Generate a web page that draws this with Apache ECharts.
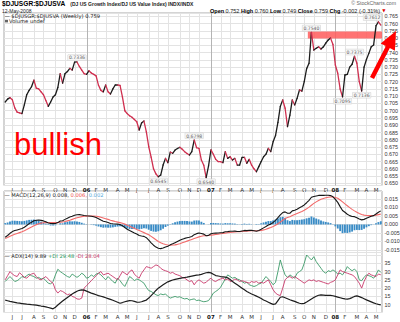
<!DOCTYPE html>
<html>
<head>
<meta charset="utf-8">
<script src="https://cdn.jsdelivr.net/npm/echarts@6/dist/echarts.min.js"></script>
<style>
html,body{margin:0;padding:0;background:#fff;}
#chart{width:400px;height:322px;}
</style>
</head>
<body>
<div id="chart"></div>
<script>
// Weekly close of the DJ US Growth / DJ US Value ratio, May 2005 - May 2008
const ratio = [
0.7060,0.7080,0.7090,0.7075,0.7020,0.6990,0.6985,0.6980,0.7040,0.7110,
0.7140,0.7165,0.7210,0.7155,0.7150,0.7130,0.7110,0.7070,0.7030,0.7060,
0.7095,0.7110,0.7160,0.7255,0.7190,0.7255,0.7270,0.7292,0.7280,0.7335,
0.7336,0.7305,0.7280,0.7255,0.7250,0.7275,0.7260,0.7250,0.7240,0.7175,
0.7140,0.7130,0.7177,0.7130,0.7115,0.7150,0.7177,0.7177,0.7175,0.7096,
0.7000,0.6980,0.6965,0.6955,0.6940,0.6924,0.6867,0.6915,0.6929,0.6855,
0.6752,0.6680,0.6600,0.6565,0.6545,0.6557,0.6626,0.6672,0.6642,0.6715,
0.6707,0.6729,0.6740,0.6748,0.6735,0.6718,0.6705,0.6695,0.6718,0.6798,
0.6745,0.6740,0.6660,0.6625,0.6540,0.6620,0.6730,0.6700,0.6665,0.6650,
0.6649,0.6642,0.6718,0.6672,0.6683,0.6660,0.6672,0.6626,0.6626,0.6679,
0.6679,0.6638,0.6665,0.6625,0.6600,0.6580,0.6615,0.6650,0.6683,0.6701,
0.6741,0.6718,0.6787,0.6830,0.6920,0.7030,0.7074,0.7017,0.6890,0.6970,
0.7074,0.7040,0.7085,0.7143,0.7135,0.7200,0.7290,0.7327,0.7540,0.7418,
0.7430,0.7440,0.7425,0.7440,0.7466,0.7487,0.7500,0.7456,0.7315,0.7258,
0.7150,0.7095,0.7246,0.7250,0.7300,0.7320,0.7375,0.7327,0.7200,0.7136,
0.7300,0.7353,0.7395,0.7440,0.7453,0.7585,0.7612,0.7590
];

// MACD(12,26,9)
const macdLine = [
-0.0075,-0.0065,-0.0052,-0.0042,-0.0036,-0.0032,-0.0028,-0.0024,-0.0016,-0.0006,
0.0005,0.0013,0.0022,0.0025,0.0026,0.0024,0.0021,0.0016,0.0009,0.0006,
0.0005,0.0006,0.0011,0.0020,0.0022,0.0030,0.0037,0.0044,0.0048,0.0054,
0.0057,0.0058,0.0056,0.0053,0.0051,0.0050,0.0048,0.0045,0.0041,0.0034,
0.0026,0.0019,0.0016,0.0011,0.0006,0.0004,0.0003,0.0002,0.0000,-0.0007,
-0.0018,-0.0028,-0.0036,-0.0043,-0.0050,-0.0056,-0.0065,-0.0068,-0.0070,-0.0078,
-0.0092,-0.0108,-0.0122,-0.0133,-0.0140,-0.0142,-0.0139,-0.0133,-0.0128,-0.0120,
-0.0114,-0.0107,-0.0100,-0.0093,-0.0087,-0.0082,-0.0078,-0.0075,-0.0071,-0.0060,
-0.0054,-0.0050,-0.0053,-0.0057,-0.0066,-0.0064,-0.0055,-0.0052,-0.0051,-0.0050,
-0.0049,-0.0048,-0.0043,-0.0042,-0.0040,-0.0040,-0.0039,-0.0041,-0.0041,-0.0038,
-0.0035,-0.0036,-0.0034,-0.0035,-0.0037,-0.0040,-0.0035,-0.0028,-0.0020,-0.0012,
-0.0003,0.0002,0.0012,0.0024,0.0040,0.0057,0.0070,0.0074,0.0066,0.0066,
0.0080,0.0084,0.0090,0.0098,0.0106,0.0115,0.0128,0.0142,0.0160,0.0165,
0.0168,0.0171,0.0171,0.0171,0.0172,0.0172,0.0170,0.0163,0.0148,0.0130,
0.0105,0.0082,0.0072,0.0060,0.0052,0.0047,0.0046,0.0040,0.0032,0.0027,
0.0030,0.0036,0.0042,0.0048,0.0052,0.0062,0.0072,0.0080
];
const macdSignal = [
-0.0083,-0.0077,-0.0070,-0.0064,-0.0058,-0.0053,-0.0048,-0.0043,-0.0037,-0.0030,
-0.0022,-0.0015,-0.0007,-0.0001,0.0004,0.0008,0.0010,0.0011,0.0012,0.0012,
0.0011,0.0011,0.0011,0.0013,0.0015,0.0017,0.0021,0.0025,0.0030,0.0035,
0.0039,0.0043,0.0046,0.0048,0.0049,0.0050,0.0050,0.0049,0.0048,0.0046,
0.0042,0.0038,0.0034,0.0030,0.0025,0.0021,0.0017,0.0014,0.0011,0.0007,
0.0002,-0.0004,-0.0010,-0.0017,-0.0023,-0.0030,-0.0036,-0.0042,-0.0048,-0.0054,
-0.0061,-0.0070,-0.0080,-0.0090,-0.0100,-0.0108,-0.0114,-0.0118,-0.0121,-0.0122,
-0.0121,-0.0120,-0.0117,-0.0113,-0.0108,-0.0103,-0.0098,-0.0093,-0.0088,-0.0083,
-0.0078,-0.0073,-0.0069,-0.0066,-0.0066,-0.0065,-0.0063,-0.0061,-0.0059,-0.0057,
-0.0055,-0.0053,-0.0051,-0.0049,-0.0047,-0.0046,-0.0044,-0.0043,-0.0042,-0.0041,
-0.0040,-0.0039,-0.0038,-0.0037,-0.0037,-0.0037,-0.0037,-0.0035,-0.0032,-0.0028,
-0.0023,-0.0018,-0.0012,-0.0005,0.0004,0.0014,0.0025,0.0035,0.0041,0.0046,
0.0053,0.0059,0.0065,0.0071,0.0077,0.0084,0.0092,0.0102,0.0113,0.0124,
0.0133,0.0141,0.0148,0.0153,0.0157,0.0160,0.0162,0.0162,0.0159,0.0154,
0.0144,0.0133,0.0121,0.0110,0.0099,0.0089,0.0080,0.0072,0.0065,0.0059,
0.0055,0.0053,0.0052,0.0052,0.0053,0.0055,0.0058,0.0061
];
const macdHist = [
0.0008,0.0012,0.0018,0.0022,0.0022,0.0021,0.0020,0.0019,0.0021,0.0024,
0.0027,0.0028,0.0029,0.0026,0.0022,0.0016,0.0011,0.0005,-0.0003,-0.0006,
-0.0006,-0.0005,0.0000,0.0007,0.0007,0.0013,0.0016,0.0019,0.0018,0.0019,
0.0018,0.0015,0.0010,0.0005,0.0002,0.0000,-0.0002,-0.0004,-0.0007,-0.0012,
-0.0016,-0.0019,-0.0018,-0.0019,-0.0019,-0.0017,-0.0014,-0.0012,-0.0011,-0.0014,
-0.0020,-0.0024,-0.0026,-0.0026,-0.0027,-0.0026,-0.0029,-0.0026,-0.0022,-0.0024,
-0.0031,-0.0038,-0.0042,-0.0043,-0.0040,-0.0034,-0.0025,-0.0015,-0.0007,0.0002,
0.0007,0.0013,0.0017,0.0020,0.0021,0.0021,0.0020,0.0018,0.0017,0.0023,
0.0024,0.0023,0.0016,0.0009,0.0000,0.0001,0.0008,0.0009,0.0008,0.0007,
0.0006,0.0005,0.0008,0.0007,0.0007,0.0006,0.0005,0.0002,0.0001,0.0003,
0.0005,0.0003,0.0004,0.0002,0.0000,-0.0003,0.0002,0.0007,0.0012,0.0016,
0.0020,0.0020,0.0024,0.0029,0.0036,0.0043,0.0045,0.0039,0.0025,0.0020,
0.0027,0.0025,0.0025,0.0027,0.0029,0.0031,0.0036,0.0040,0.0047,0.0041,
0.0035,0.0030,0.0023,0.0018,0.0015,0.0012,0.0008,0.0001,-0.0011,-0.0024,
-0.0039,-0.0051,-0.0049,-0.0050,-0.0047,-0.0042,-0.0034,-0.0032,-0.0033,-0.0032,
-0.0025,-0.0017,-0.0010,-0.0004,-0.0001,0.0007,0.0014,0.0019
];

// ADX(14) with directional indicators
const adx = [
12.8,12.4,12.0,11.7,11.4,11.1,10.9,10.7,10.5,10.3,
10.2,10.0,9.9,9.7,9.5,9.2,9.0,8.7,8.3,7.9,
7.5,8.5,9.8,11.0,12.2,13.3,14.4,15.4,16.4,17.3,
18.1,18.7,19.0,18.8,18.2,17.6,17.0,16.5,16.0,15.5,
15.1,14.7,14.2,13.7,13.2,12.7,12.1,11.5,10.9,11.3,
11.8,12.2,12.5,12.4,12.0,11.6,11.5,11.8,12.3,12.8,
14.0,15.5,17.0,18.6,20.0,21.0,22.0,23.0,23.8,24.4,
24.9,25.3,25.6,25.9,26.2,26.4,26.6,26.9,27.2,27.5,
27.8,28.0,28.3,28.8,29.3,29.5,29.2,28.4,27.6,27.3,
27.0,26.8,26.6,26.2,25.2,24.0,23.0,22.0,21.0,20.0,
19.0,18.0,17.2,16.5,15.9,15.2,14.5,13.7,12.8,12.2,
11.5,10.8,10.2,10.5,12.5,14.5,14.8,14.2,13.6,13.0,
12.5,12.0,11.4,10.9,10.6,10.8,11.6,12.5,13.4,14.3,
15.1,15.7,15.9,15.8,15.6,15.7,15.6,15.4,15.0,14.6,
14.2,13.8,13.5,13.4,13.7,14.3,15.0,15.3,14.9,14.3,
13.6,12.9,12.3,11.7,11.1,10.6,10.2,9.89
];
const plusDI = [
24.0,25.5,27.0,25.5,24.0,24.5,25.5,27.0,26.5,27.5,
28.5,27.5,27.0,26.0,26.5,25.5,26.0,24.5,23.0,22.5,
24.0,28.0,31.4,30.0,29.0,28.0,27.0,26.5,28.5,27.5,
26.5,27.5,29.0,28.0,26.0,26.5,28.0,27.0,28.5,29.0,
28.0,26.5,25.0,27.0,25.5,24.0,23.0,26.0,24.5,22.5,
21.0,24.0,27.0,26.0,24.5,25.5,25.0,24.0,23.0,20.5,
18.5,18.0,17.0,16.0,15.5,16.5,16.0,16.5,15.0,14.0,
14.5,15.0,14.5,14.8,14.0,13.5,13.8,12.8,13.2,13.5,
12.5,12.8,12.2,11.8,12.0,12.5,14.5,17.0,18.0,19.0,
20.5,23.0,25.5,28.0,27.0,26.0,26.5,25.5,25.0,24.0,
23.0,23.5,22.0,21.5,21.0,21.5,22.5,23.0,25.0,27.0,
25.5,24.0,22.0,23.5,30.0,37.0,32.0,28.0,26.5,28.0,
27.0,26.0,29.0,30.0,31.0,35.0,40.0,38.5,37.0,39.0,
36.0,34.0,32.0,30.0,29.0,30.5,30.0,31.0,30.0,28.5,
29.0,28.0,30.0,33.0,31.5,30.5,31.5,30.0,25.0,24.5,
26.5,28.0,27.5,27.0,26.0,28.0,31.0,29.48
];
const minusDI = [
25.0,27.5,30.0,28.5,27.5,27.0,29.3,28.0,26.5,26.0,
27.5,28.5,29.0,27.0,25.5,25.0,26.0,27.0,25.5,24.0,
23.0,19.0,17.0,18.5,18.0,17.0,16.0,16.5,15.0,14.5,
13.5,13.3,14.0,20.0,21.5,23.0,24.5,26.0,27.5,29.0,
30.0,28.0,28.5,29.0,28.0,27.0,26.0,25.0,27.5,30.0,
29.0,28.0,30.0,31.0,28.5,27.0,26.0,29.0,31.0,33.0,
32.5,32.0,33.0,34.0,33.5,32.0,31.0,30.5,30.0,29.0,
29.5,28.5,28.0,27.5,26.5,26.0,25.0,24.0,24.5,22.0,
24.0,25.0,24.0,23.0,23.5,25.0,26.0,24.5,24.0,25.0,
25.5,26.0,25.0,25.5,24.0,24.5,25.5,25.0,24.0,24.5,
24.0,23.5,23.0,24.0,23.5,24.0,23.0,23.5,23.0,24.0,
25.0,22.0,19.0,17.0,16.0,15.5,20.0,25.0,26.5,27.0,
26.0,27.0,26.0,25.0,24.0,23.0,24.0,25.0,24.5,25.0,
24.0,24.5,24.0,23.5,23.0,22.5,23.5,24.0,25.0,28.0,
31.0,30.0,29.5,29.0,28.5,28.0,27.0,25.0,23.0,20.0,
24.0,27.0,29.0,28.0,27.5,27.0,28.5,28.04
];

// Turning points annotated on the ratio line, and where their tags sit
const pivotWeeks = [30, 64, 79, 84, 128, 141, 146, 149, 156];
const pivotSides = ['top', 'bottom', 'top', 'bottom', 'top', 'bottom', 'top', 'bottom', 'top'];

// Resistance zone drawn from the October 2007 high to the latest week
const zoneStartWeek = 127;
const zoneLow = 0.7497;
const zoneHigh = 0.7546;

const monthInitials = ['J', 'F', 'M', 'A', 'M', 'J', 'J', 'A', 'S', 'O', 'N', 'D'];

// One category per weekly bar (Fridays), starting 13 May 2005
const firstFriday = Date.UTC(2005, 4, 13);
const weeks = ratio.map((_, i) => new Date(firstFriday + i * 7 * 864e5).toISOString().slice(0, 10));
const monthOf = i => Number(weeks[i].slice(5, 7)) - 1;
const isMonthStart = i => i > 0 && monthOf(i) !== monthOf(i - 1);
const monthStarts = weeks.map((_, i) => i).filter(isMonthStart).map(i => [i, monthOf(i) === 0 ? 1 : 0]);

const last = ratio.length - 1;
const FONT = 'DejaVu Sans';
const SANS = 'Liberation Sans';
const UP = '#1c1c1c';
const DOWN = '#cf2f4f';

function monthLabel(value, index) {
  const m = monthOf(index);
  return m === 0 ? '{y|' + weeks[index].slice(2, 4) + '}' : monthInitials[m];
}

function renderMonthLine(params, api) {
  const cs = params.coordSys;
  const x = Math.round(api.coord([api.value(0), 0])[0]) + 0.5;
  return {
    type: 'line', silent: true,
    shape: { x1: x, y1: cs.y, x2: x, y2: cs.y + cs.height },
    style: { stroke: api.value(1) ? '#b4b4b4' : '#e3e3e3', lineWidth: 1 }
  };
}

function renderSegment(params, api) {
  const i = api.value(0);
  const a = api.coord([i, api.value(1)]);
  const b = api.coord([i + 1, api.value(2)]);
  return {
    type: 'line', silent: true,
    shape: { x1: a[0], y1: a[1], x2: b[0], y2: b[1] },
    style: { stroke: api.value(2) >= api.value(1) ? UP : DOWN, lineWidth: 1.3, lineCap: 'round' }
  };
}

function renderZone(params, api) {
  const cs = params.coordSys;
  const half = api.size([1, 0])[0] / 2;
  const top = api.coord([api.value(0), api.value(2)]);
  const bottom = api.coord([api.value(0), api.value(1)]);
  return {
    type: 'rect', silent: true,
    shape: { x: top[0] - half, y: top[1], width: cs.x + cs.width - (top[0] - half), height: bottom[1] - top[1] },
    style: { fill: '#ff5c5c', opacity: 0.85 }
  };
}

const grids = [
  { left: 4, top: 13, width: 378, height: 172.5 },
  { left: 4, top: 191, width: 378, height: 61.5 },
  { left: 4, top: 252.5, width: 378, height: 60 }
].map(g => Object.assign(g, { show: true, borderColor: '#a9a9a9', borderWidth: 1, backgroundColor: '#fff', containLabel: false, outerBoundsMode: 'none' }));

const xAxes = [0, 1, 2].map(g => ({
  type: 'category', gridIndex: g, data: weeks, boundaryGap: true,
  axisLine: { show: false }, axisTick: { show: false }, splitLine: { show: false },
  axisLabel: {
    show: g !== 1, interval: isMonthStart, formatter: monthLabel, margin: 1.5,
    fontFamily: FONT, fontSize: 5.5, color: '#333',
    rich: { y: { fontFamily: FONT, fontSize: 5.5, fontWeight: 'bold', color: '#111' } }
  }
}));

const yCommon = {
  type: 'value', position: 'right',
  axisLine: { show: false }, axisTick: { show: false },
  splitLine: { show: true, lineStyle: { color: '#e3e3e3', width: 1 } },
  axisLabel: { margin: 2.5, fontFamily: SANS, fontSize: 5.4, color: '#333', showMinLabel: false, showMaxLabel: false }
};
const yAxes = [
  Object.assign({}, yCommon, { gridIndex: 0, min: 0.6485, max: 0.7673, splitNumber: 24,
    axisLabel: Object.assign({}, yCommon.axisLabel, { formatter: v => v.toFixed(3) }) }),
  Object.assign({}, yCommon, { gridIndex: 1, min: -0.0165, max: 0.0197, splitNumber: 7,
    axisLabel: Object.assign({}, yCommon.axisLabel, { formatter: v => Math.abs(v) < 1e-9 ? '0.000' : v.toFixed(3) }) }),
  Object.assign({}, yCommon, { gridIndex: 2, min: 5.3, max: 41.5, splitNumber: 7,
    axisLabel: Object.assign({}, yCommon.axisLabel, { formatter: v => (v >= 10 && v <= 35) ? String(v) : '' }) })
];

const lineSeries = (name, g, data, color, width, z) => ({
  name, type: 'line', xAxisIndex: g, yAxisIndex: g, data, symbol: 'none', silent: true,
  lineStyle: { color, width }, z, animation: false
});

const txt = (extra) => Object.assign({ padding: 0, itemGap: 0 }, extra);

const option = {
  animation: false,
  backgroundColor: '#fff',
  grid: grids,
  xAxis: xAxes,
  yAxis: yAxes,
  title: [
    txt({ left: 2, top: 0, text: '{t|$DJUSGR:$DJUSVA} {s|(DJ US Growth Index/DJ US Value Index) INDX/INDX}',
      textStyle: { lineHeight: 7, rich: {
        t: { fontFamily: SANS, fontSize: 6.6, fontWeight: 'bold', color: '#000', lineHeight: 7 },
        s: { fontFamily: SANS, fontSize: 5, color: '#222', lineHeight: 7 } } } }),
    txt({ left: 2, top: 8.6, text: '12-May-2008', textStyle: { fontFamily: SANS, fontSize: 5, lineHeight: 5, fontWeight: 'normal', color: '#222' } }),
    txt({ right: 4, top: 0.5, text: '© StockCharts.com', textStyle: { fontFamily: SANS, fontSize: 5.2, fontWeight: 'normal', color: '#666' } }),
    txt({ right: 20, top: 8,
      text: '{b|Open} 0.752 {b|High} 0.760 {b|Low} 0.749 {b|Close} ' + ratio[last].toFixed(3) + ' {b|Chg} -0.002 (-0.31%)',
      textStyle: { fontFamily: SANS, fontSize: 5.5, fontWeight: 'normal', color: '#222',
        rich: { b: { fontFamily: SANS, fontSize: 5.5, fontWeight: 'bold', color: '#000' } } } }),
    txt({ right: 14.5, top: 8.8, text: '▼', textStyle: { fontFamily: FONT, fontSize: 4.2, color: '#d00' } }),
    txt({ left: 4.5, top: 13.5, text: '— $DJUSGR:$DJUSVA (Weekly) ' + ratio[last].toFixed(3),
      textStyle: { fontFamily: FONT, fontSize: 5.2, fontWeight: 'normal', color: '#222' } }),
    txt({ left: 9, top: 18.8, text: 'Volume undef', textStyle: { fontFamily: FONT, fontSize: 5.2, fontWeight: 'normal', color: '#222' } }),
    txt({ left: 4.5, top: 192, text: '— MACD(12,26,9) ' + macdLine[last].toFixed(3) + ', {r|' + macdSignal[last].toFixed(3) + ',} {c|' + macdHist[last].toFixed(3) + '}',
      textStyle: { fontFamily: FONT, fontSize: 5.2, fontWeight: 'normal', color: '#222',
        rich: { r: { fontFamily: FONT, fontSize: 5.2, color: '#f0504a' }, c: { fontFamily: FONT, fontSize: 5.2, color: '#52a8dc' } } } }),
    txt({ left: 4.5, top: 253.8, text: '— ADX(14) ' + adx[last].toFixed(2) + ' {g|+DI ' + plusDI[last].toFixed(2) + '} {p|-DI ' + minusDI[last].toFixed(2) + '}',
      textStyle: { fontFamily: FONT, fontSize: 5.2, fontWeight: 'normal', color: '#222',
        rich: { g: { fontFamily: FONT, fontSize: 5.2, color: '#2e9a5e' }, p: { fontFamily: FONT, fontSize: 5.2, color: '#c8386a' } } } })
  ],
  graphic: [
    { type: 'rect', left: 5, top: 19.8, shape: { width: 3, height: 2.6 }, style: { fill: '#666' }, z: 50 },
    { type: 'text', x: 14, y: 144.3, z: 50,
      style: { text: 'bullish', fontFamily: SANS, fontSize: 31, fill: '#ff0000', verticalAlign: 'middle' } },
    { type: 'polygon', z: 60,
      shape: { points: [[370.0, 77.0], [385.9, 46.0], [380.7, 43.4], [396.0, 31.0], [394.9, 50.7], [389.8, 48.0], [374.0, 79.0]] },
      style: { fill: '#ff0000' } }
  ],
  series: [
    { type: 'custom', name: 'month lines', xAxisIndex: 0, yAxisIndex: 0, data: monthStarts, renderItem: renderMonthLine, z: 1, silent: true, encode: { x: 0, y: 1 } },
    { type: 'custom', name: 'resistance', xAxisIndex: 0, yAxisIndex: 0, data: [[zoneStartWeek, zoneLow, zoneHigh]], renderItem: renderZone, z: 2, silent: true, encode: { x: 0, y: [1, 2] } },
    { type: 'custom', name: 'ratio', xAxisIndex: 0, yAxisIndex: 0,
      data: ratio.slice(0, last).map((v, i) => [i, v, ratio[i + 1]]), renderItem: renderSegment, z: 3, silent: true, encode: { x: 0, y: [1, 2] } },
    { type: 'scatter', name: 'pivots', xAxisIndex: 0, yAxisIndex: 0, symbolSize: 0, z: 4, silent: true,
      data: pivotWeeks.map((w, k) => ({ value: [w, ratio[w]], label: { position: pivotSides[k], offset: w === last - 1 ? [-6, 0] : [0, 0] } })),
      label: { show: true, distance: 1.5, formatter: p => p.value[1].toFixed(4), fontFamily: FONT, fontSize: 4.6, color: '#333',
        backgroundColor: '#f3f3f3', borderColor: '#cfcfcf', borderWidth: 0.5, padding: [0.5, 1, 0, 1] } },

    { type: 'custom', name: 'month lines macd', xAxisIndex: 1, yAxisIndex: 1, data: monthStarts, renderItem: renderMonthLine, z: 1, silent: true, encode: { x: 0, y: 1 } },
    { type: 'bar', name: 'histogram', xAxisIndex: 1, yAxisIndex: 1, data: macdHist, barWidth: '78%', silent: true,
      itemStyle: { color: '#3a8cc6' }, z: 2 },
    lineSeries('signal', 1, macdSignal, '#f26a6a', 1.1, 3),
    lineSeries('macd', 1, macdLine, '#161616', 1.1, 4),

    { type: 'custom', name: 'month lines adx', xAxisIndex: 2, yAxisIndex: 2, data: monthStarts, renderItem: renderMonthLine, z: 1, silent: true, encode: { x: 0, y: 1 } },
    lineSeries('+DI', 2, plusDI, '#3b9a68', 0.9, 3),
    lineSeries('-DI', 2, minusDI, '#c8386a', 0.9, 3),
    lineSeries('ADX', 2, adx, '#1c1c1c', 1.2, 4)
  ]
};

const chart = echarts.init(document.getElementById('chart'), null, { renderer: 'svg', width: 400, height: 322 });
chart.setOption(option);
</script>
</body>
</html>
